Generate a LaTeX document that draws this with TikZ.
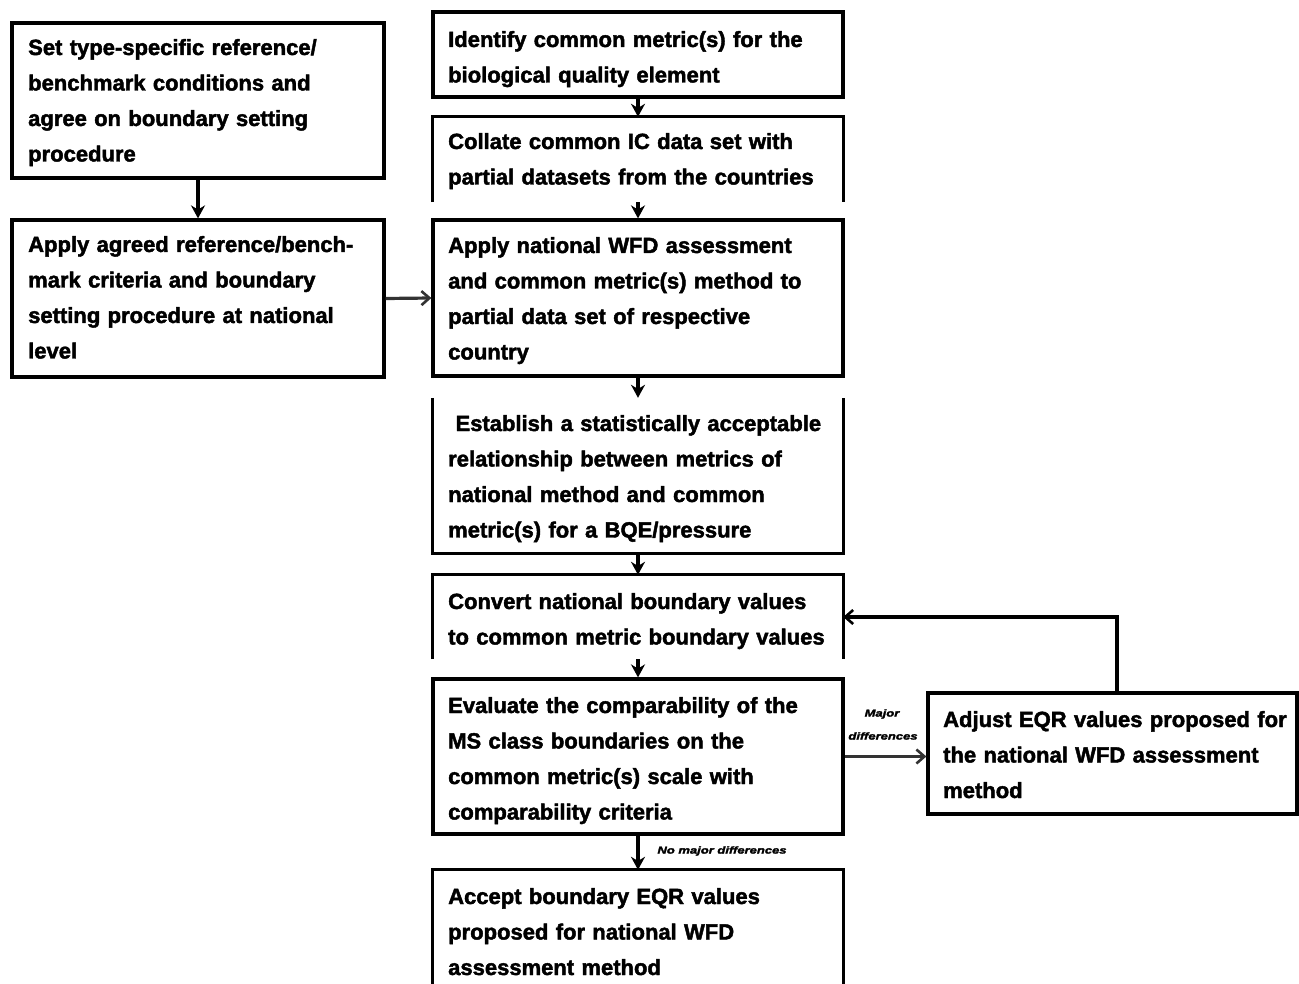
\documentclass[tikz,border=0pt]{standalone}
\usepackage{fontspec}
\setmainfont{Liberation Sans}[FakeBold=2]
\newfontfamily\lblfont{Liberation Sans}[FakeStretch=1.3,FakeBold=2.5]
\usetikzlibrary{arrows.meta}
\begin{document}
\begin{tikzpicture}[x=1pt,y=-1pt,
  box/.style={draw=black,line width=3.2pt,inner sep=0pt},
  openbox/.style={inner sep=0pt},
  edge/.style={black,line width=3.2pt},
  txt/.style={anchor=base west,inner sep=0pt,text width=420pt,align=left,
    font=\bfseries\fontsize{22}{35.5}\selectfont},
  lbl/.style={inner sep=0pt,font=\lblfont\bfseries\itshape\fontsize{10}{12}\selectfont},
  varrow/.style={edge,-{Stealth[length=13pt,width=14pt]}},
  harrow/.style={edge,draw=black!80,-{Straight Barb[length=8pt,width=14pt,line width=2.6pt]}}
]
\useasboundingbox (0,0) rectangle (1299,984);
% left column
\node[box,minimum width=372pt,minimum height=155pt] (bA) at (198,100.5) {};
\node[box,minimum width=372pt,minimum height=157pt] (bB) at (198,298.5) {};
% centre column
\node[box,minimum width=410pt,minimum height=85pt] (b1) at (638,54.5) {};
\node[openbox,minimum width=410pt,minimum height=85pt] (b2) at (638,159.5) {};
\node[box,minimum width=410pt,minimum height=156pt] (b3) at (638,298) {};
\node[openbox,minimum width=410pt,minimum height=155pt] (b4) at (638,475.5) {};
\node[openbox,minimum width=410pt,minimum height=84pt] (b5) at (638,617) {};
\node[box,minimum width=410pt,minimum height=155pt] (b6) at (638,756.5) {};
\node[openbox,minimum width=410pt,minimum height=130pt] (b7) at (638,935) {};
% right box
\node[box,minimum width=369pt,minimum height=121pt] (b8) at (1112.5,753.5) {};
% partial borders
\draw[edge,line cap=butt] (b2.south west) -- (b2.north west) -- (b2.north east) -- (b2.south east);
\draw[edge,line cap=butt] (b4.north west) -- (b4.south west) -- (b4.south east) -- (b4.north east);
\draw[edge,line cap=butt] (b5.south west) -- (b5.north west) -- (b5.north east) -- (b5.south east);
\draw[edge,line cap=butt] (b7.south west) -- (b7.north west) -- (b7.north east) -- (b7.south east);
% texts
\node[txt] (tA) at (28,55) {Set type-specific reference/\\benchmark conditions and\\agree on boundary setting\\procedure};
\node[txt] (tB) at (28,252) {Apply agreed reference/bench-\\mark criteria and boundary\\setting procedure at national\\level};
\node[txt] (t1) at (448,47) {Identify common metric(s) for the\\biological quality element};
\node[txt] (t2) at (448,149) {Collate common IC data set with\\partial datasets from the countries};
\node[txt] (t3) at (448,253) {Apply national WFD assessment\\and common metric(s) method to\\partial data set of respective\\country};
\node[txt] (t4) at (448,431) {\ Establish a statistically acceptable\\relationship between metrics of\\national method and common\\metric(s) for a BQE/pressure};
\node[txt] (t5) at (448,609) {Convert national boundary values\\to common metric boundary values};
\node[txt] (t6) at (448,713) {Evaluate the comparability of the\\MS class boundaries on the\\common metric(s) scale with\\comparability criteria};
\node[txt] (t7) at (448,904) {Accept boundary EQR values\\proposed for national WFD\\assessment method};
\node[txt] (t8) at (943,727) {Adjust EQR values proposed for\\the national WFD assessment\\method};
% connectors
\draw[varrow] (bA.south) -- (bB.north);
\draw[harrow] (bB.east) -- (b3.west);
\draw[varrow] (b1.south) -- (b2.north);
\draw[varrow] (b2.south) -- (b3.north);
\draw[varrow] (b3.south) -- (b4.north);
\draw[varrow] (b4.south) -- (b5.north);
\draw[varrow] (b5.south) -- (b6.north);
\draw[varrow] (b6.south) -- (b7.north);
\draw[harrow] (b6.east) -- (b6.east -| b8.west);
\draw[harrow,draw=black] ([xshift=4.5pt]b8.north) |- (b5.east);
% labels
\node[lbl] (l1) at (882,714) {Major};
\node[lbl] (l2) at (883,736) {differences};
\node[lbl] (l3) at (722,851) {No major differences};
\end{tikzpicture}
\end{document}
